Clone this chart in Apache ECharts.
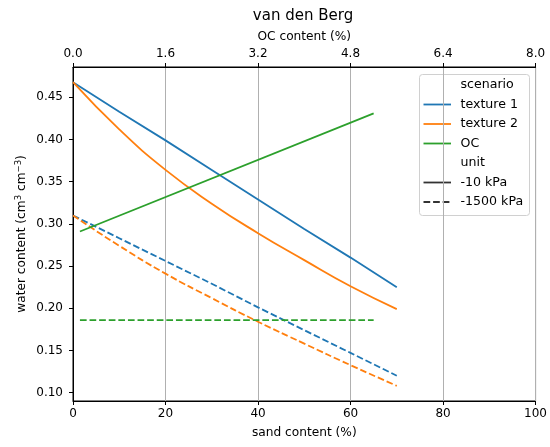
<!DOCTYPE html>
<html>
<head>
<meta charset="utf-8">
<script src="https://cdn.jsdelivr.net/npm/echarts@6/dist/echarts.min.js"></script>
<style>
  html, body { margin: 0; padding: 0; background: #fff; }
  #chart { width: 550px; height: 447px; }
</style>
</head>
<body>
<div id="chart"></div>
<script>
// Sand content (%) sampled along the texture scenarios
const sand = [0, 10, 20, 30, 40, 50, 60, 70];

// Water content (cm3 cm-3) for the texture scenarios
const texture1Wet  = [0.468, 0.433, 0.399, 0.364, 0.329, 0.294, 0.260, 0.225];
const texture1Dry  = [0.310, 0.283, 0.256, 0.229, 0.201, 0.174, 0.147, 0.120];
const texture2Wet  = [0.468, 0.412, 0.364, 0.324, 0.289, 0.257, 0.226, 0.199];
const texture2Dry  = [0.310, 0.274, 0.241, 0.212, 0.184, 0.158, 0.1325, 0.108];

// Organic carbon scenario (plotted against the OC axis)
const ocContent = [0.12, 5.2];
const ocWet     = [0.291, 0.431];
const ocDry     = [0.186, 0.186];

// Tick positions
const sandTicks  = [0, 20, 40, 60, 80, 100];
const ocTicks    = [0, 1.6, 3.2, 4.8, 6.4, 8.0];
const waterTicks = [0.10, 0.15, 0.20, 0.25, 0.30, 0.35, 0.40, 0.45];

const FONT = 'DejaVu Sans';
const C_BLUE = '#1f77b4', C_ORANGE = '#ff7f0e', C_GREEN = '#2ca02c';
const LW = 1.8;
const DASH = [6.7, 2.9];

const zip = (xs, ys) => xs.map((x, i) => [x, ys[i]]);

function lineSeries(name, xs, ys, color, dashed, xAxisIndex, curved) {
  return {
    name: name,
    type: 'line',
    xAxisIndex: xAxisIndex,
    data: zip(xs, ys),
    symbol: 'none',
    smooth: curved ? 0.5 : false,
    lineStyle: { color: color, width: LW, type: dashed ? DASH : 'solid', cap: 'butt' },
    emphasis: { disabled: true },
    silent: true
  };
}

// Legend drawn as a small framed box with headers
const legendEntries = [
  { label: 'scenario' },
  { label: 'texture 1', color: C_BLUE },
  { label: 'texture 2', color: C_ORANGE },
  { label: 'OC', color: C_GREEN },
  { label: 'unit' },
  { label: '-10 kPa', color: '#333', dashed: false },
  { label: '-1500 kPa', color: '#333', dashed: true }
];

function legendGraphic() {
  const box = { x: 419.5, y: 74.5, w: 110, h: 141 };
  const children = [{
    type: 'rect',
    shape: { x: box.x, y: box.y, width: box.w, height: box.h, r: 3 },
    style: { fill: 'rgba(255,255,255,0.8)', stroke: '#d0d0d0', lineWidth: 1 }
  }];
  legendEntries.forEach((e, i) => {
    const cy = 85 + 19.5 * i;
    if (e.color) {
      children.push({
        type: 'line',
        shape: { x1: 423.5, y1: cy, x2: 451, y2: cy },
        style: { stroke: e.color, lineWidth: LW, lineDash: e.dashed ? DASH : null }
      });
    }
    children.push({
      type: 'text',
      x: 460.5, y: cy,
      style: { text: e.label, font: '12.6px "' + FONT + '"', fill: '#000',
               textAlign: 'left', textVerticalAlign: 'middle' }
    });
  });
  return { type: 'group', z: 100, children: children };
}

const chart = echarts.init(document.getElementById('chart'), null, { renderer: 'canvas' });

chart.setOption({
  animation: false,
  backgroundColor: '#fff',
  textStyle: { fontFamily: FONT },
  grid: { left: 73, right: 13, top: 67, bottom: 46, show: true,
          borderColor: '#000', borderWidth: 1, containLabel: false },
  xAxis: [{
    type: 'value', position: 'bottom',
    min: 0, max: 100, interval: 20,
    name: 'sand content (%)', nameLocation: 'middle', nameGap: 26,
    nameMoveOverlap: false,
    nameTextStyle: { fontSize: 12.2, color: '#000', fontFamily: FONT },
    axisLine: { show: true, onZero: false, lineStyle: { color: '#000', width: 1 } },
    axisTick: { show: true, length: 4, lineStyle: { color: '#000', width: 1 } },
    axisLabel: { fontSize: 12, color: '#000', margin: 7, fontFamily: FONT,
                 customValues: sandTicks },
    splitLine: { show: true, lineStyle: { color: '#b0b0b0', width: 1 } }
  }, {
    type: 'value', position: 'top',
    min: 0, max: 8,
    name: 'OC content (%)', nameLocation: 'middle', nameGap: 24,
    nameMoveOverlap: false,
    nameTextStyle: { fontSize: 12.2, color: '#000', fontFamily: FONT },
    axisLine: { show: true, onZero: false, lineStyle: { color: '#000', width: 1 } },
    axisTick: { show: true, length: 4, lineStyle: { color: '#000', width: 1 },
                customValues: ocTicks },
    axisLabel: { fontSize: 12, color: '#000', margin: 7, fontFamily: FONT,
                 customValues: ocTicks, formatter: v => v.toFixed(1) },
    splitLine: { show: false }
  }],
  yAxis: {
    type: 'value',
    min: 0.09, max: 0.486,
    name: 'water content (cm{sup|3} cm{sup|\u22123})',
    nameLocation: 'middle', nameGap: 43, nameRotate: 90,
    nameMoveOverlap: false,
    nameTextStyle: {
      fontSize: 12.2, color: '#000', fontFamily: FONT, lineHeight: 16,
      rich: { sup: { fontSize: 8.5, color: '#000', fontFamily: FONT,
                     verticalAlign: 'top', lineHeight: 16 } }
    },
    axisLine: { show: true, onZero: false, lineStyle: { color: '#000', width: 1 } },
    axisTick: { show: true, length: 4, lineStyle: { color: '#000', width: 1 },
                customValues: waterTicks },
    axisLabel: { fontSize: 12, color: '#000', margin: 10, fontFamily: FONT,
                 customValues: waterTicks, formatter: v => v.toFixed(2) },
    splitLine: { show: false }
  },
  series: [
    lineSeries('texture 1', sand, texture1Wet, C_BLUE, false, 0, false),
    lineSeries('texture 1', sand, texture1Dry, C_BLUE, true, 0, false),
    lineSeries('texture 2', sand, texture2Wet, C_ORANGE, false, 0, true),
    lineSeries('texture 2', sand, texture2Dry, C_ORANGE, true, 0, true),
    lineSeries('OC', ocContent, ocWet, C_GREEN, false, 1, false),
    lineSeries('OC', ocContent, ocDry, C_GREEN, true, 1, false)
  ],
  graphic: [
    { type: 'text', x: 303, y: 16.5, z: 100,
      style: { text: 'van den Berg', font: '15px "' + FONT + '"', fill: '#000',
               textAlign: 'center', textVerticalAlign: 'middle' } },
    legendGraphic()
  ]
});
</script>
</body>
</html>
